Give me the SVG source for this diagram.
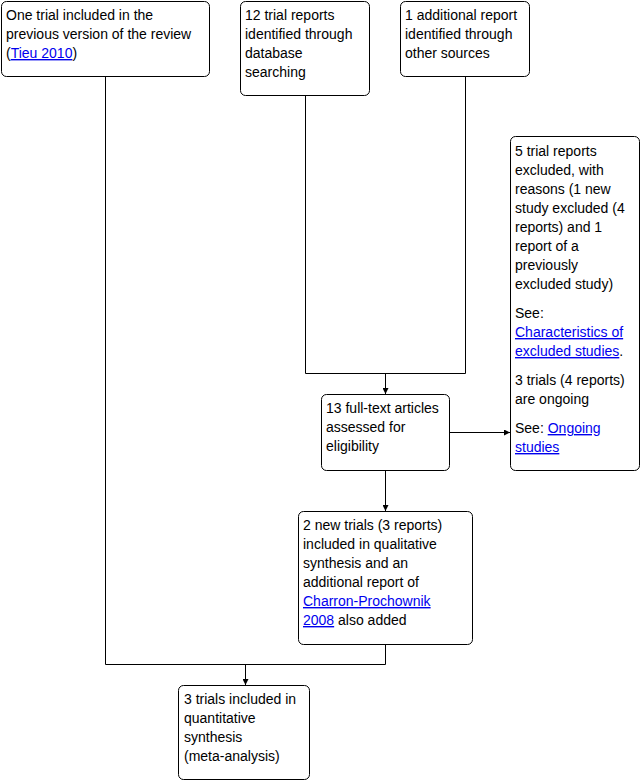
<svg xmlns="http://www.w3.org/2000/svg" width="641" height="781" viewBox="0 0 641 781">
<style>
.box{fill:#fff;stroke:#000;stroke-width:1}
text{font-family:"Liberation Sans",Arial,sans-serif;font-size:14px;fill:#000}
.lk{fill:#0000ee;text-decoration:underline}
.ln{fill:none;stroke:#000;stroke-width:1}
</style>
<defs>
<marker id="ah" markerWidth="6" markerHeight="6" refX="6" refY="3" orient="auto" markerUnits="userSpaceOnUse">
<path d="M0,0 L6,3 L0,6 Z" fill="#000"/>
</marker>
</defs>
<rect width="641" height="781" fill="#fff"/>
<g id="connectors">
<path class="ln" d="M105.5,76 V664.5 H385.5 V644"/>
<path class="ln" d="M305.5,95 V373.5 H465.5 V76"/>
<path class="ln" d="M385.5,373.5 V394" marker-end="url(#ah)"/>
<path class="ln" d="M385.5,470 V511" marker-end="url(#ah)"/>
<path class="ln" d="M449,432.5 H510" marker-end="url(#ah)"/>
<path class="ln" d="M245.5,664.5 V685" marker-end="url(#ah)"/>
</g>
<g id="n1">
<rect class="box" x="1.5" y="1.5" width="208" height="75" rx="5"/>
<text x="6" y="20">One trial included in the</text>
<text x="6" y="39">previous version of the review</text>
<text x="6" y="58">(<tspan class="lk">Tieu 2010</tspan>)</text>
</g>
<g id="n2">
<rect class="box" x="240.5" y="1.5" width="129" height="94" rx="5"/>
<text x="245" y="20">12 trial reports</text>
<text x="245" y="39">identified through</text>
<text x="245" y="58">database</text>
<text x="245" y="77">searching</text>
</g>
<g id="n3">
<rect class="box" x="400.5" y="1.5" width="129" height="75" rx="5"/>
<text x="405" y="20">1 additional report</text>
<text x="405" y="39">identified through</text>
<text x="405" y="58">other sources</text>
</g>
<g id="n4">
<rect class="box" x="510.5" y="136.5" width="129" height="334" rx="5"/>
<text x="515" y="156">5 trial reports</text>
<text x="515" y="175">excluded, with</text>
<text x="515" y="194">reasons (1 new</text>
<text x="515" y="213">study excluded (4</text>
<text x="515" y="232">reports) and 1</text>
<text x="515" y="251">report of a</text>
<text x="515" y="270">previously</text>
<text x="515" y="289">excluded study)</text>
<text x="515" y="318">See:</text>
<text x="515" y="337"><tspan class="lk">Characteristics of</tspan></text>
<text x="515" y="356"><tspan class="lk">excluded studies</tspan>.</text>
<text x="515" y="385">3 trials (4 reports)</text>
<text x="515" y="404">are ongoing</text>
<text x="515" y="433">See: <tspan class="lk">Ongoing</tspan></text>
<text x="515" y="452"><tspan class="lk">studies</tspan></text>
</g>
<g id="n5">
<rect class="box" x="321.5" y="394.5" width="128" height="76" rx="5"/>
<text x="326" y="413">13 full-text articles</text>
<text x="326" y="432">assessed for</text>
<text x="326" y="451">eligibility</text>
</g>
<g id="n6">
<rect class="box" x="298.5" y="511.5" width="174" height="133" rx="5"/>
<text x="303" y="530">2 new trials (3 reports)</text>
<text x="303" y="549">included in qualitative</text>
<text x="303" y="568">synthesis and an</text>
<text x="303" y="587">additional report of</text>
<text x="303" y="606"><tspan class="lk">Charron-Prochownik</tspan></text>
<text x="303" y="625"><tspan class="lk">2008</tspan> also added</text>
</g>
<g id="n7">
<rect class="box" x="178.5" y="685.5" width="131" height="94" rx="5"/>
<text x="184" y="704">3 trials included in</text>
<text x="184" y="723">quantitative</text>
<text x="184" y="742">synthesis</text>
<text x="184" y="761">(meta-analysis)</text>
</g>
</svg>
